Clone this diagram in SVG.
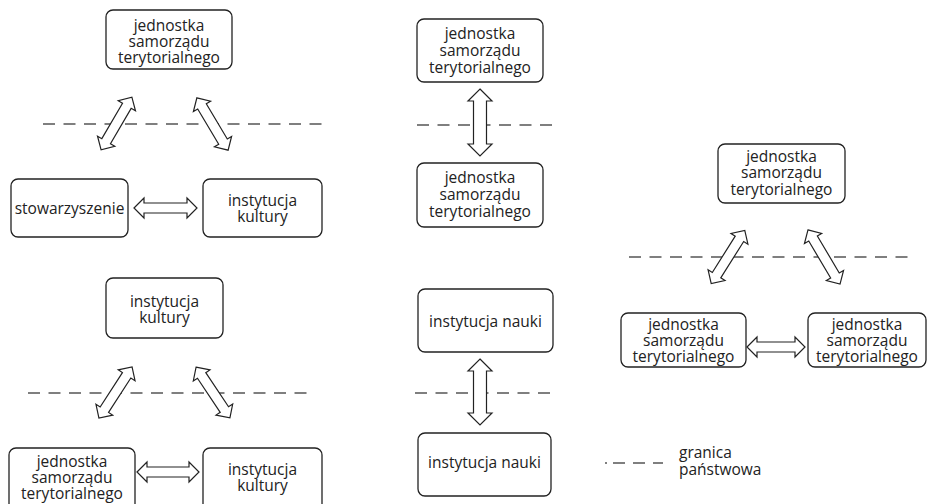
<svg xmlns="http://www.w3.org/2000/svg" width="927" height="504" viewBox="0 0 927 504">
<style>
.box{fill:#fff;stroke:#222;stroke-width:1.3}
.t{font-family:"Open Sans","Noto Sans",sans-serif;font-size:15.5px;fill:#222;text-anchor:middle}
.tl{font-family:"Open Sans","Noto Sans",sans-serif;font-size:15.5px;fill:#222}
.dash{stroke:#555;stroke-width:1.4;stroke-dasharray:12 8.5;fill:none}
.arr{fill:#fff;stroke:#222;stroke-width:1.2;stroke-linejoin:miter}
</style>
<rect width="927" height="504" fill="#fff"/>
<g id="borders">
<line class="dash" x1="43" y1="124" x2="322" y2="124"/>
<line class="dash" x1="28" y1="393" x2="307" y2="393"/>
<line class="dash" x1="417" y1="125" x2="553" y2="125"/>
<line class="dash" x1="415" y1="393" x2="550" y2="393"/>
<line class="dash" x1="629" y1="257" x2="908" y2="257"/>
</g>
<g id="connectors">
<path class="arr" transform="translate(116.5,123.5) rotate(-59.7)" d="M-30.5 0L-20.5 -10L-20.5 -5L20.5 -5L20.5 -10L30.5 0L20.5 10L20.5 5L-20.5 5L-20.5 10Z"/>
<path class="arr" transform="translate(212.5,124) rotate(59.2)" d="M-30.5 0L-20.5 -10L-20.5 -5L20.5 -5L20.5 -10L30.5 0L20.5 10L20.5 5L-20.5 5L-20.5 10Z"/>
<path class="arr" transform="translate(165.5,208)" d="M-31.5 0L-21.5 -10L-21.5 -5L21.5 -5L21.5 -10L31.5 0L21.5 10L21.5 5L-21.5 5L-21.5 10Z"/>
<path class="arr" transform="translate(115.5,392.5) rotate(-57.1)" d="M-30.5 0L-20.5 -10L-20.5 -5L20.5 -5L20.5 -10L30.5 0L20.5 10L20.5 5L-20.5 5L-20.5 10Z"/>
<path class="arr" transform="translate(213,392.5) rotate(56.3)" d="M-30.5 0L-20.5 -10L-20.5 -5L20.5 -5L20.5 -10L30.5 0L20.5 10L20.5 5L-20.5 5L-20.5 10Z"/>
<path class="arr" transform="translate(168,472)" d="M-31 0L-21 -10L-21 -5L21 -5L21 -10L31 0L21 10L21 5L-21 5L-21 10Z"/>
<path class="arr" transform="translate(480,122.5) rotate(90)" d="M-33.5 0L-21.5 -12L-21.5 -6.5L21.5 -6.5L21.5 -12L33.5 0L21.5 12L21.5 6.5L-21.5 6.5L-21.5 12Z"/>
<path class="arr" transform="translate(480,392) rotate(90)" d="M-33 0L-21 -12L-21 -6.5L21 -6.5L21 -12L33 0L21 12L21 6.5L-21 6.5L-21 12Z"/>
<path class="arr" transform="translate(728,257) rotate(-57.8)" d="M-31.5 0L-21.5 -10L-21.5 -5L21.5 -5L21.5 -10L31.5 0L21.5 10L21.5 5L-21.5 5L-21.5 10Z"/>
<path class="arr" transform="translate(824,257) rotate(59.4)" d="M-31.5 0L-21.5 -10L-21.5 -5L21.5 -5L21.5 -10L31.5 0L21.5 10L21.5 5L-21.5 5L-21.5 10Z"/>
<path class="arr" transform="translate(776,347)" d="M-29 0L-19 -10L-19 -5L19 -5L19 -10L29 0L19 10L19 5L-19 5L-19 10Z"/>
</g>
<g id="n1"><rect class="box" x="106" y="10" width="126" height="59" rx="7"/><text class="t"><tspan x="169" y="30.5">jednostka</tspan><tspan x="169" y="46.5">samorządu</tspan><tspan x="169" y="62.5">terytorialnego</tspan></text></g>
<g id="n2"><rect class="box" x="11" y="179" width="117" height="58" rx="7"/><text class="t" x="69.5" y="214">stowarzyszenie</text></g>
<g id="n3"><rect class="box" x="203" y="179" width="119" height="58" rx="7"/><text class="t"><tspan x="262.5" y="206">instytucja</tspan><tspan x="262.5" y="222">kultury</tspan></text></g>
<g id="n4"><rect class="box" x="106" y="278" width="117" height="60" rx="7"/><text class="t"><tspan x="164.5" y="307">instytucja</tspan><tspan x="164.5" y="323">kultury</tspan></text></g>
<g id="n5"><rect class="box" x="9" y="448" width="126" height="64" rx="7"/><text class="t"><tspan x="72" y="467">jednostka</tspan><tspan x="72" y="483">samorządu</tspan><tspan x="72" y="498.5">terytorialnego</tspan></text></g>
<g id="n6"><rect class="box" x="203" y="448" width="119" height="64" rx="7"/><text class="t"><tspan x="262.5" y="475">instytucja</tspan><tspan x="262.5" y="491">kultury</tspan></text></g>
<g id="n7"><rect class="box" x="417" y="19" width="126" height="63" rx="7"/><text class="t"><tspan x="480" y="39">jednostka</tspan><tspan x="480" y="56">samorządu</tspan><tspan x="480" y="73">terytorialnego</tspan></text></g>
<g id="n8"><rect class="box" x="417" y="163" width="126" height="64" rx="7"/><text class="t"><tspan x="480" y="183">jednostka</tspan><tspan x="480" y="200">samorządu</tspan><tspan x="480" y="216.5">terytorialnego</tspan></text></g>
<g id="n9"><rect class="box" x="418" y="289" width="135" height="63" rx="7"/><text class="t" x="485.5" y="327">instytucja nauki</text></g>
<g id="n10"><rect class="box" x="418" y="433" width="133" height="63" rx="7"/><text class="t" x="484.5" y="468">instytucja nauki</text></g>
<g id="n11"><rect class="box" x="718" y="144" width="127" height="59" rx="7"/><text class="t"><tspan x="781.5" y="162">jednostka</tspan><tspan x="781.5" y="178">samorządu</tspan><tspan x="781.5" y="195">terytorialnego</tspan></text></g>
<g id="n12"><rect class="box" x="621" y="313" width="125" height="54" rx="7"/><text class="t"><tspan x="683.5" y="330">jednostka</tspan><tspan x="683.5" y="346">samorządu</tspan><tspan x="683.5" y="362">terytorialnego</tspan></text></g>
<g id="n13"><rect class="box" x="808" y="313" width="118" height="54" rx="7"/><text class="t"><tspan x="867" y="330">jednostka</tspan><tspan x="867" y="346">samorządu</tspan><tspan x="867" y="362">terytorialnego</tspan></text></g>
<g id="legend">
<line class="dash" x1="605" y1="463" x2="663" y2="463" style="stroke-dasharray:2 6 12 8 12 8 12 8"/>
<text class="tl"><tspan x="679" y="458">granica</tspan><tspan x="679" y="475">państwowa</tspan></text>
</g>
</svg>
